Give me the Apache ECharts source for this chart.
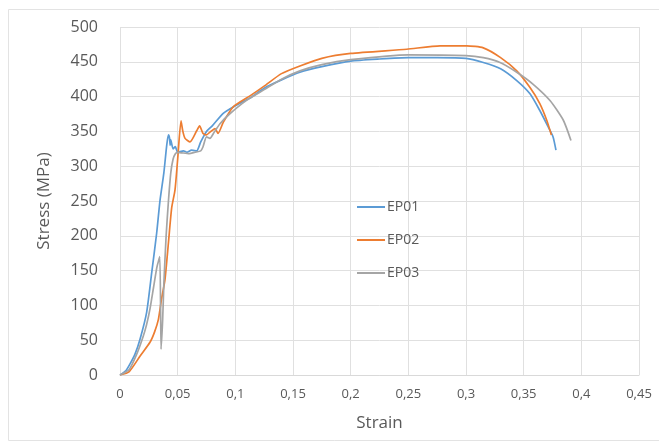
<!DOCTYPE html>
<html>
<head>
<meta charset="utf-8">
<script src="https://cdn.jsdelivr.net/npm/echarts@6/dist/echarts.min.js"></script>
<style>
html,body{margin:0;padding:0;background:#fff;}
#chart{width:659px;height:448px;}
</style>
</head>
<body>
<div id="chart"></div>
<script>
// ---- data (strain, stress MPa) ----
const seriesNames = ['EP01', 'EP02', 'EP03'];
const ep01 = [[0,0],[0.005,6],[0.0087,16],[0.013,30],[0.0173,51],[0.0231,90],[0.0275,147],[0.0318,204],[0.0347,251],[0.038,290],[0.0405,330],[0.042,345],[0.043,340],[0.0435,330],[0.044,338],[0.046,325],[0.048,328],[0.05,320],[0.055,322],[0.058,320],[0.062,323],[0.0665,322],[0.07,335],[0.075,350],[0.08,358],[0.0895,376],[0.1,387],[0.1127,398],[0.125,412],[0.14,424],[0.156,435],[0.175,443],[0.2,451],[0.225,454],[0.25,456],[0.275,456],[0.3,455],[0.315,449],[0.33,440],[0.344,423],[0.3555,404],[0.364,380],[0.3714,356],[0.3755,342],[0.378,323]];
const ep02 = [[0,0],[0.008,5],[0.0173,27],[0.026,47],[0.03,62],[0.0333,80],[0.036,109],[0.039,137],[0.042,190],[0.0448,240],[0.0477,266],[0.05,310],[0.0529,365],[0.0545,350],[0.0564,340],[0.0607,335],[0.0665,351],[0.069,358],[0.072,347],[0.075,345],[0.078,349],[0.0824,354],[0.085,347],[0.0895,363],[0.098,385],[0.1127,401],[0.125,415],[0.14,433],[0.156,444],[0.175,455],[0.2,462],[0.2486,468],[0.2775,473],[0.3007,473],[0.315,470],[0.33,456],[0.344,437],[0.3555,413],[0.364,390],[0.37,366],[0.374,345]];
const ep03 = [[0,0],[0.008,8],[0.0145,30],[0.02,55],[0.023,72],[0.026,95],[0.029,125],[0.032,155],[0.0345,170],[0.0356,37],[0.037,80],[0.038,130],[0.04,200],[0.042,250],[0.044,290],[0.046,310],[0.048,318],[0.05,320],[0.06,318],[0.065,320],[0.07,322],[0.072,328],[0.075,342],[0.078,340],[0.081,347],[0.0867,361],[0.095,375],[0.11,395],[0.125,410],[0.14,425],[0.156,437],[0.175,446],[0.2,453],[0.25,460],[0.3,459],[0.315,456],[0.3295,449],[0.344,435],[0.358,418],[0.373,394],[0.3844,366],[0.391,337]];
const xTickLabels = ['0','0,05','0,1','0,15','0,2','0,25','0,3','0,35','0,4','0,45'];
const yTickLabels = ['0','50','100','150','200','250','300','350','400','450','500'];
const colors = ['#5B9BD5', '#ED7D31', '#A5A5A5'];

const chart = echarts.init(document.getElementById('chart'));
const font = '"Open Sans", "DejaVu Sans", sans-serif';
const dataSets = [ep01, ep02, ep03];

chart.setOption({
  animation: false,
  backgroundColor: '#fff',
  graphic: [{
    type: 'rect', shape: {x: 8.5, y: 9.5, width: 700, height: 431},
    style: {fill: 'none', stroke: '#e3e3e3', lineWidth: 1}, z: -1
  }],
  grid: {left: 120, right: 20, top: 27, bottom: 73},
  legend: {
    orient: 'vertical', left: 352, top: 195, itemGap: 19,
    itemWidth: 28, itemHeight: 2, icon: 'rect',
    textStyle: {color: '#595959', fontSize: 14, fontFamily: font, padding: [0, 0, 0, -3]},
    data: seriesNames
  },
  xAxis: {
    type: 'value', min: 0, max: 0.45, interval: 0.05,
    name: 'Strain', nameLocation: 'middle', nameGap: 40,
    nameTextStyle: {color: '#595959', fontSize: 17, fontFamily: font},
    axisLine: {show: true, lineStyle: {color: '#d9d9d9'}},
    axisTick: {show: false},
    splitLine: {show: true, lineStyle: {color: '#e0e0e0'}},
    axisLabel: {color: '#595959', fontSize: 13, fontFamily: font, margin: 13,
      formatter: (v, i) => xTickLabels[Math.round(v / 0.05)]}
  },
  yAxis: {
    type: 'value', min: 0, max: 500, interval: 50,
    name: 'Stress (MPa)', nameLocation: 'middle', nameGap: 67,
    nameTextStyle: {color: '#595959', fontSize: 17, fontFamily: font},
    axisLine: {show: false}, axisTick: {show: false},
    splitLine: {show: true, lineStyle: {color: '#e0e0e0'}},
    axisLabel: {color: '#595959', fontSize: 16, fontFamily: font, margin: 22,
      formatter: (v) => yTickLabels[Math.round(v / 50)]}
  },
  series: seriesNames.map((n, i) => ({
    name: n, type: 'line', data: dataSets[i], showSymbol: false, symbol: 'none',
    smooth: 0.2,
    lineStyle: {color: colors[i], width: 1.7}, itemStyle: {color: colors[i]}
  }))
});
</script>
</body>
</html>
